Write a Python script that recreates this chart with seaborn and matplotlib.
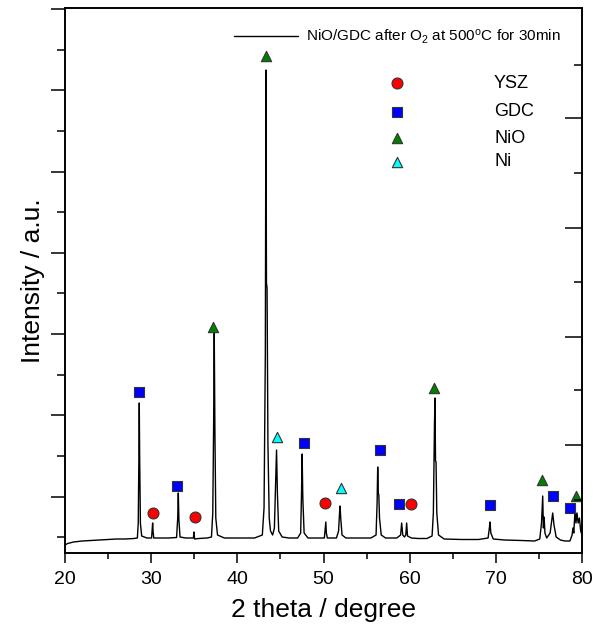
import matplotlib
matplotlib.use("Agg")
import matplotlib.pyplot as plt
import seaborn as sns
import pandas as pd
from matplotlib.ticker import MultipleLocator, FixedLocator, NullFormatter

two_theta = [20.0, 20.3, 21, 22, 23, 24, 25, 26, 27, 28, 28.4, 28.5, 28.58, 28.62, 28.66, 28.75, 28.9,
             29.5, 30.05, 30.12, 30.17, 30.22, 30.3, 31, 32, 32.95, 33.08, 33.15, 33.22, 33.35, 34,
             34.9, 34.97, 35.04, 35.5, 36.5, 37.0, 37.15, 37.25, 37.32, 37.4, 37.5, 37.7, 38.5, 40, 42,
             42.9, 43.1, 43.25, 43.32, 43.38, 43.45, 43.55, 43.7, 43.85, 44.1, 44.3, 44.45, 44.55,
             44.65, 44.8, 45.2, 46, 47, 47.35, 47.45, 47.52, 47.6, 47.75, 48.2, 49, 50.1, 50.2, 50.27,
             50.33, 50.45, 51.5, 51.75, 51.85, 51.92, 52.0, 52.15, 52.6, 54, 55.5, 56.1, 56.22, 56.29,
             56.36, 56.42, 56.5, 56.7, 57.2, 58.5, 58.95, 59.07, 59.2, 59.4, 59.55, 59.65, 59.75, 60.2,
             61, 62, 62.6, 62.75, 62.88, 62.94, 63.0, 63.06, 63.15, 63.35, 64, 66, 68, 69.1, 69.25,
             69.32, 69.42, 69.7, 71, 73, 74.5, 75.1, 75.3, 75.44, 75.52, 75.6, 75.7, 75.9, 76.3, 76.5,
             76.6, 76.75, 77.0, 77.5, 78, 78.6, 78.85, 78.95, 79.05, 79.2, 79.3, 79.42, 79.55, 79.7,
             79.85, 80.0]
intensity = [8, 9.5, 11, 12, 12.5, 13, 13.5, 14, 14, 14.5, 15, 30, 100, 150, 100, 30, 17,
             15, 15, 24, 30, 22, 15, 15, 15, 15.5, 35, 60, 33, 16, 15,
             15, 21, 14, 14.5, 15, 16, 40, 130, 220, 120, 35, 18, 15, 15, 15,
             18, 45, 200, 483, 270, 265, 110, 35, 22, 18, 25, 70, 103,
             60, 22, 16, 15, 15, 20, 60, 99, 55, 20, 15, 15, 15, 25, 31,
             20, 15, 15, 22, 38, 47, 35, 18, 15, 15, 15, 18, 50, 86,
             60, 58, 35, 18, 15, 15, 18, 30, 18, 16, 18, 30, 17, 15,
             14.5, 14.5, 17, 40, 130, 155, 92, 91, 40, 18, 14, 13.5, 13.5, 15, 25,
             31, 20, 14, 13, 12.5, 12, 14, 30, 57, 25, 36, 20, 15, 20, 33,
             40, 28, 16, 13, 12, 12, 18, 25, 20, 45, 30, 40, 30, 35,
             22, 18]

# posições dos marcadores de fase
ysz_x = [30.17, 35.05, 50.17, 60.15]
ysz_y = [40, 36, 50, 49]
gdc_x = [28.62, 32.96, 47.78, 56.55, 58.76, 69.32, 76.67, 78.6]
gdc_y = [161, 67, 110, 103, 49, 48, 57, 45]
nio_x = [37.18, 43.33, 62.82, 75.32, 79.3]
nio_y = [226, 497, 165, 73, 57]
ni_x = [44.56, 52.03]
ni_y = [116, 65]

sample_label = "NiO/GDC after O$_2$ at 500$^{\\mathrm{o}}$C for 30min"

sns.set_style("ticks")
plt.rcParams['font.family'] = ['Liberation Sans', 'DejaVu Sans']
plt.rcParams['mathtext.fontset'] = 'custom'
plt.rcParams['mathtext.rm'] = 'Liberation Sans'
plt.rcParams['mathtext.it'] = 'Liberation Sans:italic'
for key in ['text.color', 'axes.labelcolor', 'xtick.color', 'ytick.color', 'axes.edgecolor']:
    plt.rcParams[key] = 'black'

fig = plt.figure(figsize=(5.95, 6.38), dpi=100)
ax = fig.add_axes([65 / 595, 1 - 553 / 638, 517 / 595, 545 / 638])

df = pd.DataFrame({'2theta': two_theta, 'I': intensity})
sns.lineplot(data=df, x='2theta', y='I', ax=ax, color='black', lw=1.0, sort=False)

# marcadores das fases
phases = [
    ('YSZ', ysz_x, ysz_y, 'o', '#ff0000', 62),
    ('GDC', gdc_x, gdc_y, 's', '#0000ff', 60),
    ('NiO', nio_x, nio_y, '^', '#008000', 55),
    ('Ni', ni_x, ni_y, '^', '#00ffff', 55),
]
for name, xs, ys, mk, col, s in phases:
    sns.scatterplot(x=xs, y=ys, ax=ax, marker=mk, color=col, s=s,
                    edgecolor='#333333', linewidth=0.8, zorder=5, clip_on=False)

# legenda manual
ax.plot([0.327, 0.451], [0.949, 0.949], transform=ax.transAxes, color='black', lw=1.0)
ax.text(0.467, 0.947, sample_label, transform=ax.transAxes, fontsize=11, va='center', ha='left')
leg_y = [0.862, 0.810, 0.761, 0.718]
for (name, xs, ys, mk, col, s), yy in zip(phases, leg_y):
    ax.scatter([0.642], [yy], transform=ax.transAxes, marker=mk, color=col, s=s,
               edgecolor='#333333', linewidth=0.8, zorder=5)
    ax.text(0.830, yy, name, transform=ax.transAxes, fontsize=13, va='center', ha='left')

ax.set_xlim(20, 80)
ax.set_ylim(0, 545)
ax.xaxis.set_major_locator(MultipleLocator(10))
ax.xaxis.set_minor_locator(MultipleLocator(5))
ax.yaxis.set_major_locator(FixedLocator([56, 138, 219, 300, 381, 463, 544]))
ax.yaxis.set_minor_locator(FixedLocator([16, 97, 178, 260, 341, 422, 503]))
ax.yaxis.set_major_formatter(NullFormatter())
ax.tick_params(axis='x', which='major', direction='out', length=7, width=1.1, labelsize=14, pad=6)
ax.tick_params(axis='x', which='minor', direction='out', length=4, width=1.1)
ax.tick_params(axis='y', which='major', direction='out', length=10, width=1.1)
ax.tick_params(axis='y', which='minor', direction='out', length=6, width=1.1)
for sp in ax.spines.values():
    sp.set_visible(True)
    sp.set_linewidth(1.2)
    sp.set_color('black')

# eixo direito com outra escala de marcas
ax2 = ax.twinx()
ax2.set_ylim(0, 545)
ax2.yaxis.set_major_locator(FixedLocator([108, 216, 325, 435]))
ax2.yaxis.set_minor_locator(FixedLocator([53, 163, 271, 380, 488]))
ax2.yaxis.set_major_formatter(NullFormatter())
ax2.tick_params(axis='y', which='major', direction='in', length=12, width=1.1)
ax2.tick_params(axis='y', which='minor', direction='in', length=6, width=1.1)
for sp in ax2.spines.values():
    sp.set_linewidth(1.2)
    sp.set_color('black')

ax.set_xlabel('2 theta / degree', fontsize=19, va='top')
ax.set_ylabel('Intensity / a.u.', fontsize=19)
ax.xaxis.set_label_coords(0.5, -0.0826)
ax.yaxis.set_label_coords(-0.039, 0.5)

plt.savefig('out.png', dpi=100)
plt.close()
